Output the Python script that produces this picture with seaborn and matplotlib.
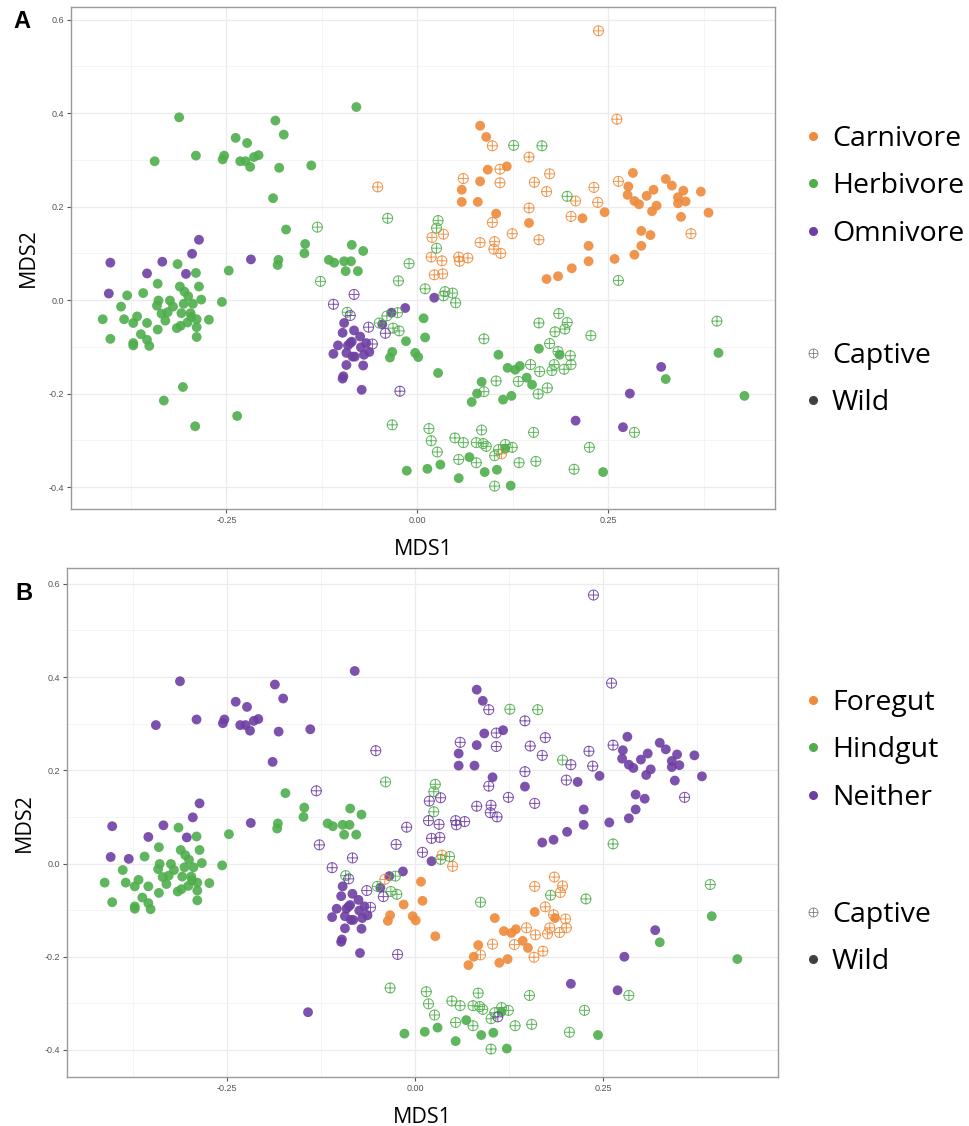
import numpy as np
import pandas as pd
import matplotlib
matplotlib.use("Agg")
from matplotlib import pyplot as plt
from matplotlib.path import Path
from matplotlib.lines import Line2D
import seaborn as sb

# ---- data (MDS1, MDS2) ----
carn_wild = [(0.082, 0.373), (0.090, 0.349), (0.117, 0.286), (0.092, 0.279), (0.082, 0.254),
             (0.058, 0.236), (0.058, 0.210), (0.079, 0.210), (0.103, 0.185), (0.146, 0.165),
             (0.216, 0.175), (0.245, 0.188), (0.224, 0.116), (0.224, 0.083), (0.202, 0.068),
             (0.258, 0.088), (0.284, 0.097), (0.293, 0.116), (0.293, 0.148), (0.305, 0.139),
             (0.282, 0.272), (0.276, 0.243), (0.275, 0.225), (0.284, 0.212), (0.290, 0.205),
             (0.300, 0.223), (0.309, 0.236), (0.313, 0.202), (0.307, 0.190), (0.325, 0.259),
             (0.333, 0.245), (0.348, 0.234), (0.341, 0.220), (0.341, 0.207), (0.351, 0.211),
             (0.371, 0.232), (0.345, 0.178), (0.381, 0.187), (0.169, 0.045), (0.184, 0.051)]
carn_capt = [(0.237, 0.576), (0.261, 0.387), (0.098, 0.330), (0.146, 0.306), (0.108, 0.280),
             (0.173, 0.270), (0.060, 0.260), (0.108, 0.251), (0.153, 0.252), (0.169, 0.232),
             (0.263, 0.254), (0.231, 0.241), (0.207, 0.212), (0.236, 0.209), (0.146, 0.197),
             (0.201, 0.179), (0.098, 0.166), (0.124, 0.142), (0.159, 0.129), (0.082, 0.123),
             (0.101, 0.125), (0.100, 0.109), (0.109, 0.100), (0.358, 0.142), (0.019, 0.134),
             (0.034, 0.141), (0.018, 0.092), (0.032, 0.084), (0.022, 0.054), (0.033, 0.056),
             (0.054, 0.092), (0.055, 0.083), (0.066, 0.090), (-0.052, 0.242), (0.110, -0.329)]

# herbivores, split by gut type (panel B colouring)
herb_wild_neither = [(-0.312, 0.391), (-0.344, 0.297), (-0.290, 0.309), (-0.255, 0.301), (-0.253, 0.309),
                     (-0.238, 0.347), (-0.223, 0.336), (-0.232, 0.297), (-0.225, 0.297), (-0.219, 0.285),
                     (-0.214, 0.306), (-0.208, 0.310), (-0.186, 0.384), (-0.175, 0.354), (-0.181, 0.283),
                     (-0.139, 0.288), (-0.189, 0.218), (-0.080, 0.413), (-0.380, 0.010)]
herb_wild_hind = [(-0.172, 0.151), (-0.147, 0.120), (-0.148, 0.100), (-0.086, 0.118), (-0.116, 0.086),
                  (-0.109, 0.080), (-0.096, 0.083), (-0.087, 0.083), (-0.094, 0.062), (-0.078, 0.062),
                  (-0.182, 0.086), (-0.183, 0.075), (-0.247, 0.063), (-0.256, -0.004), (-0.071, 0.105),
                  (-0.314, 0.077), (-0.290, 0.058), (-0.340, 0.035), (-0.359, 0.015), (-0.388, -0.014),
                  (-0.412, -0.041), (-0.402, -0.083), (-0.384, -0.041), (-0.372, -0.049), (-0.367, -0.035),
                  (-0.354, -0.049), (-0.362, -0.073), (-0.354, -0.085), (-0.372, -0.092), (-0.372, -0.097),
                  (-0.351, -0.098), (-0.340, -0.063), (-0.341, -0.012), (-0.339, -0.001), (-0.330, -0.044),
                  (-0.327, -0.026), (-0.324, -0.001), (-0.320, -0.014), (-0.311, 0.029), (-0.305, 0.018),
                  (-0.300, 0.008), (-0.306, -0.008), (-0.294, -0.008), (-0.309, -0.028), (-0.297, -0.028),
                  (-0.296, -0.036), (-0.289, -0.041), (-0.286, 0.029), (-0.283, 0.001), (-0.273, -0.042),
                  (-0.301, -0.048), (-0.310, -0.055), (-0.315, -0.060), (-0.289, -0.058), (-0.289, -0.079),
                  (-0.335, -0.029),
                  (0.325, -0.169), (0.394, -0.113), (0.428, -0.205), (0.115, -0.318), (0.068, -0.336),
                  (-0.014, -0.365), (0.013, -0.361), (0.030, -0.352), (0.054, -0.381), (0.088, -0.368),
                  (0.104, -0.363), (0.122, -0.397), (0.243, -0.368)]
herb_wild_hind_a_only = [(-0.307, -0.186), (-0.332, -0.215), (-0.236, -0.248), (-0.291, -0.270)]
herb_wild_fore = [(0.008, -0.039), (0.010, -0.080), (-0.015, -0.088), (-0.033, -0.111), (-0.036, -0.123),
                  (-0.003, -0.113), (0.001, -0.122), (0.027, -0.156), (0.106, -0.117), (0.159, -0.104),
                  (0.186, -0.117), (0.118, -0.145), (0.128, -0.149), (0.134, -0.141), (0.143, -0.166),
                  (0.150, -0.181), (0.084, -0.175), (0.078, -0.200), (0.071, -0.218), (0.112, -0.213),
                  (0.123, -0.205)]
herb_capt_neither = [(-0.131, 0.156), (-0.127, 0.040), (-0.011, 0.078), (-0.025, 0.041), (0.010, 0.024)]
herb_capt_hind = [(-0.039, 0.175), (0.027, 0.170), (0.025, 0.154), (0.025, 0.111), (0.034, 0.009),
                  (0.046, 0.015), (-0.026, -0.027), (-0.050, -0.049), (-0.032, -0.060), (-0.024, -0.066),
                  (-0.092, -0.026), (0.087, -0.083), (0.126, 0.331), (0.163, 0.330), (0.196, 0.222),
                  (0.263, 0.042), (0.392, -0.045), (0.284, -0.283), (0.180, -0.068), (0.227, -0.076),
                  (0.015, -0.275), (0.018, -0.301), (0.026, -0.325), (0.049, -0.295), (0.060, -0.305),
                  (0.077, -0.305), (0.084, -0.278), (0.086, -0.307), (0.090, -0.313), (0.101, -0.333),
                  (0.115, -0.309), (0.124, -0.315), (0.106, -0.320), (0.054, -0.341), (0.077, -0.348),
                  (0.133, -0.348), (0.155, -0.345), (0.152, -0.283), (0.225, -0.315), (0.205, -0.362),
                  (0.101, -0.398), (-0.033, -0.267)]
herb_capt_fore = [(-0.040, -0.034), (0.036, 0.018), (0.050, -0.006), (0.185, -0.029), (0.159, -0.049),
                  (0.196, -0.048), (0.193, -0.062), (0.173, -0.093), (0.184, -0.110), (0.200, -0.119),
                  (0.201, -0.138), (0.179, -0.138), (0.192, -0.148), (0.176, -0.151), (0.160, -0.153),
                  (0.148, -0.138), (0.132, -0.174), (0.103, -0.173), (0.087, -0.196), (0.170, -0.188),
                  (0.158, -0.201)]

omni_wild = [(-0.402, 0.080), (-0.404, 0.014), (-0.354, 0.057), (-0.334, 0.082), (-0.303, 0.056),
             (-0.295, 0.099), (-0.286, 0.129), (-0.218, 0.087),
             (0.022, 0.005), (-0.016, -0.017), (-0.034, -0.027), (-0.046, -0.052), (-0.096, -0.049),
             (-0.083, -0.065), (-0.098, -0.070), (-0.075, -0.078), (-0.086, -0.089), (-0.104, -0.097),
             (-0.091, -0.097), (-0.067, -0.092), (-0.074, -0.101), (-0.063, -0.111), (-0.110, -0.115),
             (-0.093, -0.113), (-0.082, -0.121), (-0.070, -0.117), (-0.093, -0.139), (-0.071, -0.140),
             (-0.097, -0.163), (-0.098, -0.168), (-0.073, -0.192), (-0.088, -0.092), (-0.085, -0.121),
             (0.319, -0.143), (0.278, -0.200), (0.207, -0.258), (0.269, -0.272)]
omni_wild_b_only = [(-0.142, -0.319)]
omni_capt = [(-0.110, -0.009), (-0.083, 0.012), (-0.088, -0.033), (-0.064, -0.058), (-0.042, -0.071),
             (-0.059, -0.094), (-0.023, -0.195)]

diet_order = ['Carnivore', 'Herbivore', 'Omnivore']
gut_order = ['Foregut', 'Hindgut', 'Neither']
palette = ['#EF8A3A', '#4FAE4C', '#6E3FA3']

groups = [
    (carn_wild, 'Carnivore', 'Neither', 'Wild', 'AB'),
    (carn_capt, 'Carnivore', 'Neither', 'Captive', 'AB'),
    (herb_wild_neither, 'Herbivore', 'Neither', 'Wild', 'AB'),
    (herb_wild_hind, 'Herbivore', 'Hindgut', 'Wild', 'AB'),
    (herb_wild_hind_a_only, 'Herbivore', 'Hindgut', 'Wild', 'A'),
    (herb_wild_fore, 'Herbivore', 'Foregut', 'Wild', 'AB'),
    (herb_capt_neither, 'Herbivore', 'Neither', 'Captive', 'AB'),
    (herb_capt_hind, 'Herbivore', 'Hindgut', 'Captive', 'AB'),
    (herb_capt_fore, 'Herbivore', 'Foregut', 'Captive', 'AB'),
    (omni_wild, 'Omnivore', 'Neither', 'Wild', 'AB'),
    (omni_wild_b_only, 'Omnivore', 'Neither', 'Wild', 'B'),
    (omni_capt, 'Omnivore', 'Neither', 'Captive', 'AB'),
]
rows = []
for pts, diet, gut, src, pan in groups:
    for x, y in pts:
        rows.append(dict(MDS1=x, MDS2=y, diet=diet, gut=gut, source=src, panel=pan))
df = pd.DataFrame(rows)

circle_plus = Path.make_compound_path(Path.unit_circle(),
                                      Path([(-1, 0), (1, 0)]),
                                      Path([(0, -1), (0, 1)]))

sb.set_style('white')
plt.rcParams['font.family'] = ['Liberation Sans', 'DejaVu Sans']

fig = plt.figure(figsize=(9.69, 11.26), dpi=100)
W, H = 969.0, 1126.0


def px_axes(l, t, r, b):
    return fig.add_axes([l / W, 1 - b / H, (r - l) / W, (b - t) / H])


def draw_panel(ax, data, col, order, xlim, ylim):
    wild = data[data.source == 'Wild']
    sb.scatterplot(data=wild, x='MDS1', y='MDS2', hue=col, hue_order=order, palette=palette,
                   s=50, linewidth=0, alpha=0.9, legend=False, ax=ax, zorder=3)
    for name, c in zip(order, palette):
        sub = data[(data.source == 'Captive') & (data[col] == name)]
        ax.scatter(sub['MDS1'], sub['MDS2'], marker=circle_plus, s=52, facecolors='none',
                   edgecolors=c, linewidths=0.7, alpha=0.9, zorder=3)

    ax.set_xlim(xlim)
    ax.set_ylim(ylim)
    ax.set_xticks([-0.25, 0, 0.25])
    ax.set_xticklabels(['-0.25', '0.00', '0.25'])
    ax.set_yticks([-0.4, -0.2, 0, 0.2, 0.4, 0.6])
    ax.set_yticklabels(['-0.4', '-0.2', '0.0', '0.2', '0.4', '0.6'])
    ax.set_xticks([-0.375, -0.125, 0.125, 0.375], minor=True)
    ax.set_yticks([-0.3, -0.1, 0.1, 0.3, 0.5], minor=True)
    ax.grid(True, which='major', color='#EBEBEB', lw=0.9, zorder=0)
    ax.grid(True, which='minor', color='#F2F2F2', lw=0.6, zorder=0)
    ax.set_axisbelow(True)
    ax.tick_params(which='major', length=3, width=0.8, color='#555555', labelsize=6.5,
                   labelcolor='#555555', pad=2, bottom=True, left=True)
    ax.tick_params(which='minor', length=0)
    for sp in ax.spines.values():
        sp.set_color('#9A9A9A')
        sp.set_linewidth(1.0)
    ax.set_xlabel('MDS1', family='Open Sans', fontsize=15.5, labelpad=10, color='black')
    ax.set_ylabel('MDS2', family='Open Sans', fontsize=15.5, labelpad=7, color='black')


def add_legends(ax, labels, top1, top2):
    h1 = [Line2D([], [], marker='o', ls='', color=c, markersize=5.5) for c in palette]
    h2 = [Line2D([], [], marker=circle_plus, ls='', markerfacecolor='none',
                 markeredgecolor='#808080', markersize=6.5, markeredgewidth=0.6),
          Line2D([], [], marker='o', ls='', color='#404040', markersize=5.5)]
    common = dict(loc='upper left', bbox_transform=fig.transFigure, frameon=False,
                  prop={'family': 'Open Sans', 'size': 20.5}, labelspacing=0.68,
                  handlelength=0.7, handletextpad=0.32, borderpad=0, borderaxespad=0,
                  labelcolor='black')
    leg1 = ax.legend(h1, labels, bbox_to_anchor=(803 / W, 1 - top1 / H), **common)
    ax.add_artist(leg1)
    ax.legend(h2, ['Captive', 'Wild'], bbox_to_anchor=(803 / W, 1 - top2 / H), **common)


axA = px_axes(71, 7, 775, 509)
draw_panel(axA, df[df.panel.str.contains('A')], 'diet', diet_order, (-0.4535, 0.468), (-0.447, 0.627))
add_legends(axA, diet_order, 125, 342)

axB = px_axes(67, 568, 778, 1077)
draw_panel(axB, df[df.panel.str.contains('B')], 'gut', gut_order, (-0.462, 0.482), (-0.458, 0.634))
add_legends(axB, gut_order, 689, 901)

fig.text(22 / W, 1 - 22 / H, 'A', fontsize=17, fontweight='bold', ha='center', va='center', color='black')
fig.text(24 / W, 1 - 593 / H, 'B', fontsize=17, fontweight='bold', ha='center', va='center', color='black')

fig.savefig('out.png', dpi=100)
